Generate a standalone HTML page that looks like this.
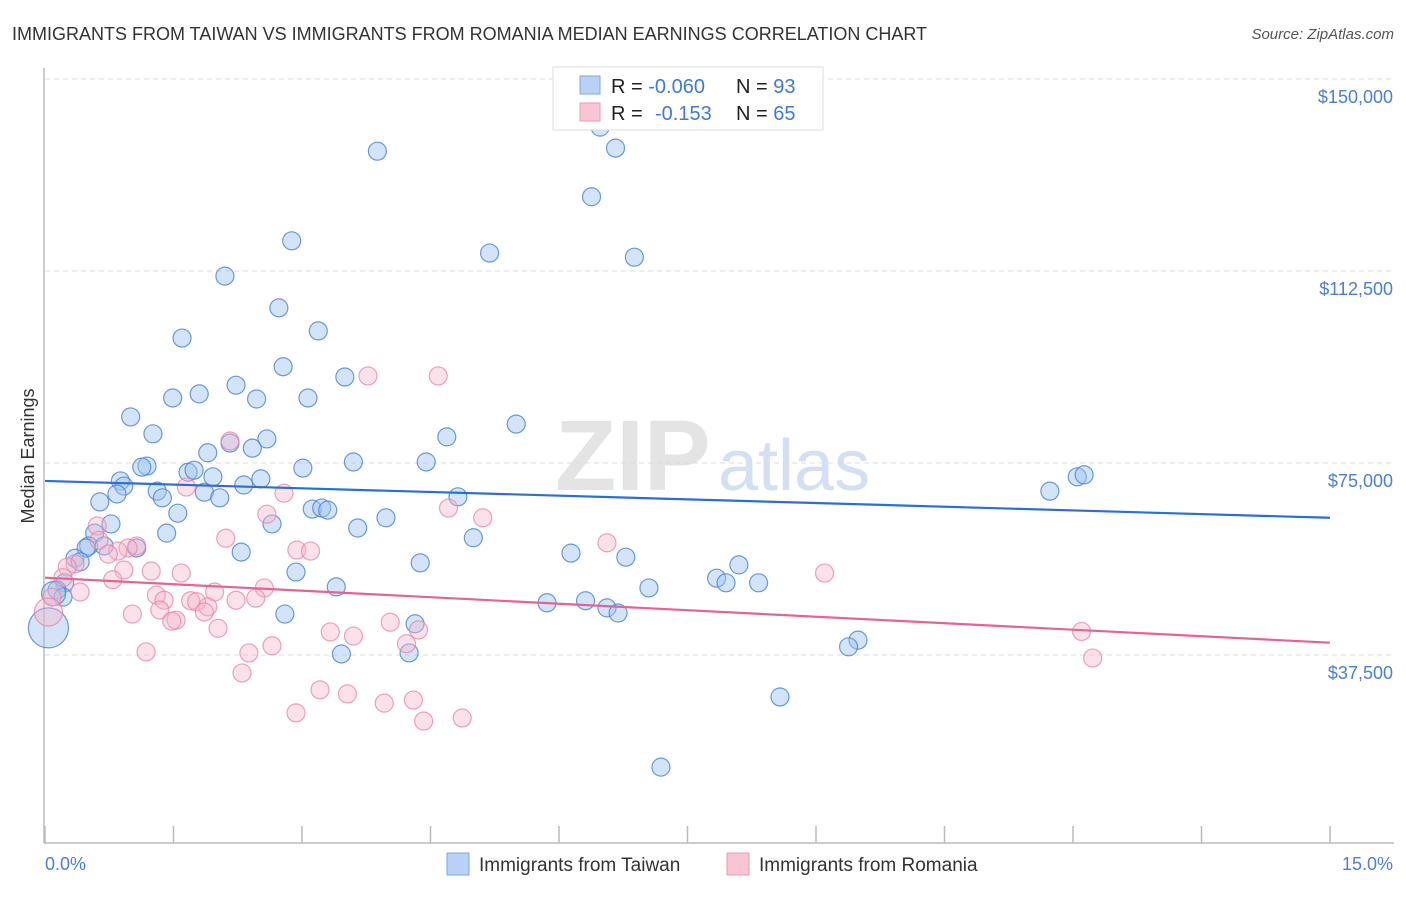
<!DOCTYPE html>
<html><head><meta charset="utf-8"><style>
body{margin:0;background:#fff;font-family:"Liberation Sans",sans-serif;}
svg text{font-family:"Liberation Sans",sans-serif;}
</style></head><body>
<svg id="chart" width="1406" height="892" viewBox="0 0 1406 892">
<text x="12" y="40" font-size="18" fill="#333">IMMIGRANTS FROM TAIWAN VS IMMIGRANTS FROM ROMANIA MEDIAN EARNINGS CORRELATION CHART</text>
<text x="1394" y="39" font-size="15" fill="#555" font-style="italic" text-anchor="end">Source: ZipAtlas.com</text>
<text x="555" y="490" font-size="100" fill="#e4e4e4" font-family="Liberation Serif" font-weight="bold">ZIP</text>
<text x="718" y="490" font-size="72" fill="#d3e0f3">atlas</text>
<g id="grid"></g>
<line x1="44" y1="68" x2="44" y2="843" stroke="#bbb" stroke-width="1.5"/>
<line x1="44" y1="843" x2="1394" y2="843" stroke="#bbb" stroke-width="1.5"/>
<g id="ticks"></g>
<text transform="translate(34,456) rotate(-90)" font-size="18" fill="#333" text-anchor="middle">Median Earnings</text>
<text x="45" y="870" font-size="18" fill="#4a7fd4">0.0%</text>
<text x="1393" y="870" font-size="18" fill="#4a7fd4" text-anchor="end">15.0%</text>
<g id="pts"></g>
<g id="lines"></g>
<g>
<rect x="553" y="67" width="270" height="63" fill="#fff" stroke="#ddd"/>
<rect x="580" y="76" width="20" height="18" fill="#b9d1f5" stroke="#7fa7e6"/>
<rect x="580" y="103" width="20" height="18" fill="#f9c4d3" stroke="#ee9ab3"/>
<text x="611" y="93" font-size="20" fill="#222">R = <tspan fill="#3f7ad6">-0.060</tspan><tspan x="736">N = </tspan><tspan fill="#3f7ad6">93</tspan></text>
<text x="611" y="120" font-size="20" fill="#222">R = <tspan x="655" fill="#3f7ad6">-0.153</tspan><tspan x="736">N = </tspan><tspan fill="#3f7ad6">65</tspan></text>
</g>
<g>
<rect x="447" y="853" width="22" height="22" fill="#b9d1f5" stroke="#7fa7e6"/>
<text x="479" y="871" font-size="19" fill="#333">Immigrants from Taiwan</text>
<rect x="727" y="853" width="22" height="22" fill="#f9c4d3" stroke="#ee9ab3"/>
<text x="759" y="871" font-size="19" fill="#333">Immigrants from Romania</text>
</g>
</svg>
<script>
const yTicks=[150000,112500,75000,37500];
const yTickLabels=["$150,000","$112,500","$75,000","$37,500"];
const xTicks=[0,1.5,3,4.5,6,7.5,9,10.5,12,13.5,15];
const taiwanX=[6.48,6.66,3.88,6.38,2.88,5.19,6.88,2.10,2.73,3.19,1.60,2.78,3.50,2.23,1.80,1.49,2.47,3.07,1.00,5.50,1.26,4.69,2.59,2.16,2.42,1.90,1.19,1.13,3.60,4.45,3.01,1.67,1.74,0.88,0.92,1.96,2.52,2.32,0.84,1.31,12.05,12.13,11.73,1.86,2.04,1.37,0.64,4.82,3.12,3.23,3.30,1.55,3.98,2.65,0.77,3.65,1.42,0.58,5.00,0.51,0.48,1.07,2.29,6.14,0.69,6.78,0.35,0.41,4.38,8.10,2.93,7.84,7.95,8.33,0.23,3.40,7.05,0.14,0.21,5.86,6.31,6.56,6.69,2.80,4.32,9.49,9.38,3.46,4.25,0.04,8.58,7.19,0.10];
const taiwanY=[140600,136500,135900,127000,118400,116000,115200,111500,105300,100800,99400,93800,91800,90200,88500,87700,87500,87700,84000,82600,80700,80100,79700,78900,77900,77000,74400,74200,75200,75200,74000,73200,73600,71500,70500,72300,71900,70700,68950,69500,72300,72700,69500,69300,68200,68200,67400,68400,66000,66200,65800,65200,64300,63100,63100,62300,61300,61300,60400,58800,58400,58400,57600,57400,58800,56600,56400,55700,55500,55100,53700,52500,51600,51600,51600,50800,50600,50200,48800,47700,48100,46700,45700,45500,43600,40400,39100,37700,37900,42800,29300,15600,49500];
const taiwanR=[9,9,9,9,9,9,9,9,9,9,9,9,9,9,9,9,9,9,9,9,9,9,9,9,9,9,9,9,9,9,9,9,9,9,9,9,9,9,9,9,9,9,9,9,9,9,9,9,9,9,9,9,9,9,9,9,9,9,9,9,9,9,9,9,9,9,9,9,9,9,9,9,9,9,9,9,9,9,9,9,9,9,9,9,9,9,9,9,9,20,9,9,12];
const romaniaX=[3.77,4.59,2.16,2.79,1.65,4.71,5.11,2.59,0.61,2.11,6.56,1.07,0.97,0.63,2.94,3.10,0.85,0.74,0.35,0.26,1.24,0.92,1.59,9.10,0.21,0.79,2.56,1.98,0.41,1.30,1.70,1.77,2.46,2.23,1.39,0.08,1.90,1.34,1.86,1.02,1.53,1.48,4.03,2.02,4.36,3.33,3.60,12.10,4.22,2.65,1.18,2.38,12.23,2.30,3.21,3.53,3.96,4.30,2.93,4.87,4.42,0.04];
const romaniaY=[92000,92000,79300,69100,70300,66200,64300,65000,62700,60300,59400,58800,58400,59900,58000,57800,57800,57200,55300,54700,53900,54100,53500,53500,52600,52200,50600,49800,49800,49200,48100,47900,48600,48200,48200,48800,46900,46300,45900,45500,44300,44100,43900,42700,42400,42000,41200,42100,39700,39300,38100,37900,36900,34000,30700,29900,28100,28700,26200,25200,24600,45900];
const taiwanTrend=[71500,64300];
const romaniaTrend=[52600,39900];
const NS="http://www.w3.org/2000/svg";
const X0=45,X1=1330,Y150=79,PXPER=192/37500;
function xs(p){return X0+(p/15)*(X1-X0);}
function ys(v){return Y150+(150000-v)*PXPER;}
function mk(tag,attrs,parent){const e=document.createElementNS(NS,tag);for(const k in attrs)e.setAttribute(k,attrs[k]);parent.appendChild(e);return e;}
const grid=document.getElementById('grid');
yTicks.forEach((v,i)=>{
 const l=mk('line',{x1:45,x2:1394,y1:ys(v),y2:ys(v),stroke:'#ddd','stroke-dasharray':'5,4'},grid);
 
 
 const t=mk('text',{x:1393,y:ys(v)+24,'font-size':18,fill:'#4a7fd4','text-anchor':'end'},grid);
 t.textContent=yTickLabels[i];
 
 
});
const ticks=document.getElementById('ticks');
xTicks.forEach(p=>{
 const l=mk('line',{x1:xs(p),x2:xs(p),y1:826,y2:843,stroke:'#bbb','stroke-width':1.5},ticks);
 
 
});
const pts=document.getElementById('pts');
taiwanX.forEach((p,i)=>{
 const c=mk('circle',{cx:xs(p),cy:ys(taiwanY[i]),r:taiwanR[i],fill:'rgba(160,195,240,0.45)',stroke:'rgba(70,130,215,0.8)','stroke-width':1.2},pts);
 
 
});
romaniaX.forEach((p,i)=>{
 const c=mk('circle',{cx:xs(p),cy:ys(romaniaY[i]),r:i===romaniaX.length-1?14:9,fill:'rgba(245,180,200,0.4)',stroke:'rgba(235,130,165,0.75)','stroke-width':1.2},pts);
 
 
});
const lines=document.getElementById('lines');
const tl=mk('line',{x1:xs(0),x2:xs(15),y1:ys(taiwanTrend[0]),y2:ys(taiwanTrend[1]),stroke:'#2a6fd6','stroke-width':2.2},lines);


const rl=mk('line',{x1:xs(0),x2:xs(15),y1:ys(romaniaTrend[0]),y2:ys(romaniaTrend[1]),stroke:'#e8628e','stroke-width':2.2},lines);


</script>
</body></html>
